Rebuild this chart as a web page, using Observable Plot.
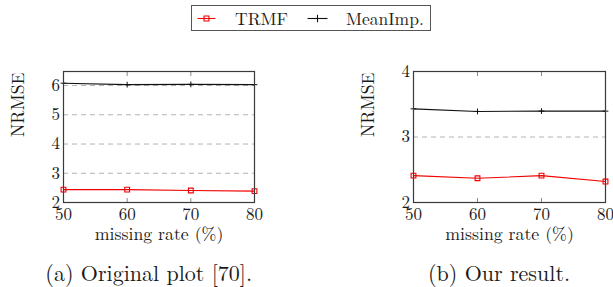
<!DOCTYPE html>
<html>
<head>
<meta charset="utf-8">
<script src="https://cdn.jsdelivr.net/npm/d3@7"></script>
<script src="https://cdn.jsdelivr.net/npm/@observablehq/plot@0.6"></script>
<style>
  html, body { margin: 0; padding: 0; background: #fff; }
  #root { position: relative; width: 613px; height: 287px; overflow: hidden; font-family: 'Latin Modern Roman', 'Liberation Serif', serif; color: #1a1a1a; }
  .abs { position: absolute; }
  #legend { left: 191px; top: 5px; width: 238px; height: 24px; border: 1px solid #555; box-sizing: content-box; }
  .lab { position: absolute; top: 3px; font-family: 'Latin Modern Roman', 'Liberation Serif', serif; font-size: 17.5px; line-height: 18px; white-space: nowrap; }
  .cap { position: absolute; top: 261px; font-family: 'Latin Modern Roman', 'Liberation Serif', serif; font-size: 22px; line-height: 22px; white-space: nowrap; }
  svg text { font-family: 'Latin Modern Roman', 'Liberation Serif', serif; }
</style>
</head>
<body>
<div id="root">
  <div id="legend" class="abs">
    <svg class="abs" style="left:0;top:0" width="238" height="24" id="legsvg"></svg>
    <span class="lab" style="left:43px">TRMF</span>
    <span class="lab" style="left:154px">MeanImp.</span>
  </div>
  <div id="plotA" class="abs" style="left:0;top:50px"></div>
  <div id="plotB" class="abs" style="left:300px;top:50px"></div>
  <div class="cap" style="right:361px">(a) Original plot [70].</div>
  <div class="cap" style="left:428px">(b) Our result.</div>
</div>
<script>
// ---- data ----
const rates = [50, 60, 70, 80];
const origTRMF = [2.44, 2.44, 2.41, 2.39];
const origMeanImp = [6.08, 6.03, 6.04, 6.03];
const oursTRMF = [2.41, 2.37, 2.41, 2.32];
const oursMeanImp = [3.43, 3.39, 3.395, 3.395];
const xTicks = [50, 60, 70, 80];
const innerXTicks = [60, 70];
const yTicksA = [2, 3, 4, 5, 6];
const gridA = [3, 4, 5, 6];
const yTicksB = [2, 3, 4];
const gridB = [3];
const seriesNames = ["TRMF", "MeanImp."];
const seriesColors = ["#f00000", "#111111"];
const xLabel = "missing rate (%)";
const yLabel = "NRMSE";

const FONT = "'Latin Modern Roman', 'Liberation Serif', serif";

function rows(trmf, mean) {
  return rates.flatMap((r, i) => [
    {rate: r, value: trmf[i], series: seriesNames[0]},
    {rate: r, value: mean[i], series: seriesNames[1]}
  ]);
}

function makePlot(data, yDomain, yTicks, grid, opts) {
  const trmf = data.filter(d => d.series === seriesNames[0]);
  const mean = data.filter(d => d.series === seriesNames[1]);
  return Plot.plot({
    width: opts.width,
    height: 210,
    marginLeft: opts.marginLeft,
    marginRight: opts.marginRight,
    marginTop: 21,
    marginBottom: 58,
    style: {fontFamily: FONT, fontSize: "17px", color: "#1a1a1a", background: "transparent", overflow: "visible"},
    x: {domain: [50, 80]},
    y: {domain: yDomain},
    marks: [
      Plot.gridY(grid, {stroke: "#b3b3b3", strokeOpacity: 1, strokeDasharray: "5,4", strokeWidth: 1}),
      Plot.line(trmf, {x: "rate", y: "value", stroke: seriesColors[0], strokeWidth: 1.1}),
      Plot.line(mean, {x: "rate", y: "value", stroke: seriesColors[1], strokeWidth: 1.1}),
      Plot.dot(trmf, {x: "rate", y: "value", symbol: "square", r: 2.7, stroke: seriesColors[0], fill: "none", strokeWidth: 1.1}),
      Plot.dot(mean, {x: "rate", y: "value", symbol: "plus", r: 2, stroke: seriesColors[1], strokeWidth: 1}),
      Plot.axisX({anchor: "bottom", ticks: innerXTicks, tickSize: -4, tickFormat: () => "", stroke: "#888", label: null}),
      Plot.axisX({anchor: "top", ticks: innerXTicks, tickSize: -4, tickFormat: () => "", stroke: "#888", label: null}),
      Plot.axisX({anchor: "bottom", ticks: xTicks, tickSize: 0, tickPadding: 5, tickFormat: d3.format("d"), label: null, fontSize: 17, fontFamily: FONT}),
      Plot.axisY({anchor: "left", ticks: yTicks, tickSize: 0, tickPadding: 3.5, tickFormat: d3.format("d"), label: null, fontSize: 17, fontFamily: FONT}),
      Plot.frame({stroke: "#3a3a3a", strokeWidth: 1.2}),
      Plot.text([xLabel], {frameAnchor: "bottom", dy: 37.5, lineAnchor: "bottom", fontSize: 17.8, fontFamily: FONT, fill: "#1a1a1a", text: d => d}),
      Plot.text([yLabel], {frameAnchor: "left", dx: -40, rotate: -90, lineAnchor: "bottom", fontSize: 17.8, fontFamily: FONT, fill: "#1a1a1a", text: d => d})
    ]
  });
}

const pA = makePlot(rows(origTRMF, origMeanImp), [2, 6.48], yTicksA, gridA, {width: 300, marginLeft: 63, marginRight: 46});
document.getElementById("plotA").appendChild(pA);
const pB = makePlot(rows(oursTRMF, oursMeanImp), [2, 4], yTicksB, gridB, {width: 313, marginLeft: 113, marginRight: 8});
document.getElementById("plotB").appendChild(pB);

// legend swatches
const leg = d3.select("#legsvg");
const legItems = [
  {x0: 5.5, x1: 23.5, name: seriesNames[0], color: seriesColors[0], symbol: d3.symbolSquare, size: 24, fill: "none"},
  {x0: 115.5, x1: 135.5, name: seriesNames[1], color: seriesColors[1], symbol: d3.symbolPlus, size: 20, fill: "none"}
];
legItems.forEach(it => {
  leg.append("line").attr("x1", it.x0).attr("x2", it.x1).attr("y1", 12.5).attr("y2", 12.5)
    .attr("stroke", it.color).attr("stroke-width", 1.1);
  leg.append("path").attr("d", d3.symbol(it.symbol, it.size)())
    .attr("transform", `translate(${(it.x0 + it.x1) / 2},12.5)`)
    .attr("stroke", it.color).attr("fill", it.fill).attr("stroke-width", 1.1);
});
</script>
</body>
</html>
